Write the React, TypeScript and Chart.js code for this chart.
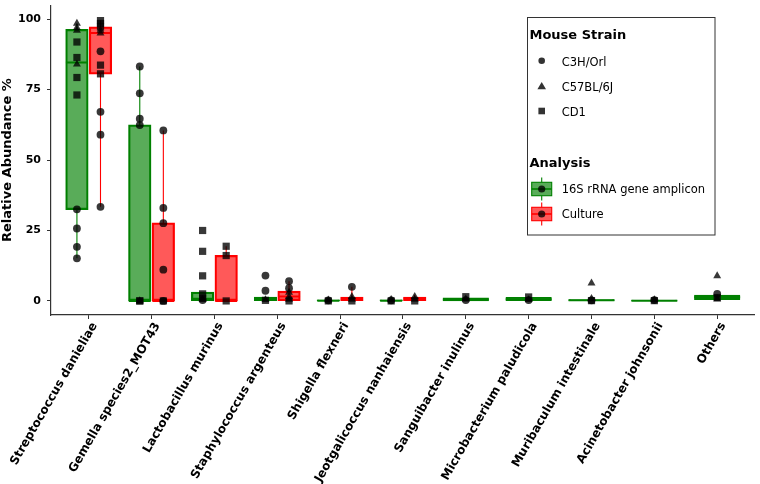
import React, { useEffect, useRef } from 'react';
import { Chart, registerables } from 'chart.js';

Chart.register(...registerables);

const categories = [
  'Streptococcus danieliae',
  'Gemella species2_MOT43',
  'Lactobacillus murinus',
  'Staphylococcus argenteus',
  'Shigella flexneri',
  'Jeotgalicoccus nanhaiensis',
  'Sanguibacter inulinus',
  'Microbacterium paludicola',
  'Muribaculum intestinale',
  'Acinetobacter johnsonii',
  'Others',
];
const yTicks = [0, 25, 50, 75, 100];
const strainLabels = ['C3H/Orl', 'C57BL/6J', 'CD1'];
const analysisLabels = ['16S rRNA gene amplicon', 'Culture'];
const yTitle = 'Relative Abundance %';
const strainTitle = 'Mouse Strain';
const analysisTitle = 'Analysis';

// box stats per category: [q1, median, q3, whiskerLow, whiskerHigh]
const ampliconBoxes: (number[] | null)[] = [
  [32.5, 84.6, 96.3, 15.1, 98.5],
  [0, 0, 62.4, 0, 83.2],
  [0, 0.8, 3.0, 0, 3.0],
  [0, 0.4, 1.3, 0, 1.3],
  [0, 0.1, 0.3, 0, 0.3],
  [0, 0.1, 0.3, 0, 0.3],
  [0.1, 0.5, 1.0, 0, 1.0],
  [0, 0.6, 1.2, 0, 1.2],
  [0, 0.2, 0.4, 0, 0.4],
  [0, 0.1, 0.2, 0, 0.2],
  [0.5, 1.3, 2.0, 0.3, 2.3],
];
const cultureBoxes: (number[] | null)[] = [
  [80.6, 95.1, 97.2, 33.4, 99.5],
  [0, 0, 27.6, 0, 60.5],
  [0, 0, 16.1, 0, 19.4],
  [0, 1.6, 3.4, 0, 7.0],
  [0, 0.5, 1.3, 0, 5.0],
  [0.2, 0.8, 1.3, 0, 2.2],
  null,
  null,
  null,
  null,
  null,
];

// individual samples per category
const ampliconC3H = [
  [32.5, 25.7, 19.2, 15.1],
  [83.2, 73.7, 64.7, 62.4],
  [0.3],
  [9.0, 3.6],
  [0.2],
  [0.2],
  [0.3],
  [0.3],
  [0.2],
  [0.3],
  [2.5],
];
const ampliconC57 = [
  [98.5, 97.0, 96.0, 84.0],
  [0],
  [0.5],
  [0.4],
  [0.3],
  [0.5],
  [0.6],
  [0.4],
  [6.3, 0.8],
  [0.4],
  [8.9, 0.6],
];
const ampliconCD1 = [
  [91.9, 86.4, 79.3, 73.1],
  [0, 0],
  [25.0, 17.6, 8.9, 2.5, 1.0],
  [0.2],
  [0],
  [0],
  [1.5],
  [1.4],
  [0.1],
  [0.1],
  [1.2],
];
const cultureC3H = [
  [88.6, 67.1, 59.0, 33.4],
  [60.5, 33.0, 27.6, 11.1, 0],
  [],
  [7.0, 4.5],
  [5.0],
  [],
  [], [], [], [], [],
];
const cultureC57 = [
  [96.0, 95.0],
  [],
  [],
  [3.0, 1.5, 0.5],
  [1.5, 0.5],
  [1.5, 0.5],
  [], [], [], [], [],
];
const cultureCD1 = [
  [99.5, 98.5, 97.2, 83.7, 80.6],
  [0],
  [19.4, 16.1, 0],
  [0],
  [0],
  [0],
  [], [], [], [], [],
];

const GREEN = '#008000';
const GREEN_FILL = 'rgba(0,128,0,0.65)';
const RED = '#ff0000';
const RED_FILL = 'rgba(255,0,0,0.65)';
const POINT = 'rgba(0,0,0,0.78)';
const FONT = '"DejaVu Sans", sans-serif';
const DODGE = 0.1875;

function centerFor(i: number, group: 'a' | 'c') {
  const paired = !!cultureBoxes[i];
  if (!paired) return i;
  return group === 'a' ? i - DODGE : i + DODGE;
}

function boxData(boxes: (number[] | null)[], group: 'a' | 'c', paired: boolean) {
  const out: any[] = [];
  boxes.forEach((b, i) => {
    if (!b) return;
    const isPaired = !!cultureBoxes[i];
    if (isPaired !== paired) return;
    out.push({ x: centerFor(i, group), y: [b[0], b[2]] });
  });
  return out;
}

function whiskerData(boxes: (number[] | null)[], group: 'a' | 'c') {
  const out: any[] = [];
  boxes.forEach((b, i) => {
    if (!b) return;
    const c = centerFor(i, group);
    out.push({ x: c, y: b[3] }, { x: c, y: b[0] }, { x: c, y: null });
    out.push({ x: c, y: b[2] }, { x: c, y: b[4] }, { x: c, y: null });
  });
  return out;
}

function medianData(boxes: (number[] | null)[], group: 'a' | 'c') {
  const out: any[] = [];
  boxes.forEach((b, i) => {
    if (!b) return;
    const c = centerFor(i, group);
    const h = cultureBoxes[i] ? 0.175 : 0.365;
    out.push({ x: c - h, y: b[1] }, { x: c + h, y: b[1] }, { x: c + h, y: null });
  });
  return out;
}

function pointData(values: number[][], group: 'a' | 'c') {
  const out: any[] = [];
  values.forEach((arr, i) => {
    arr.forEach((v) => out.push({ x: centerFor(i, group), y: v }));
  });
  return out;
}

const legendPlugin = {
  id: 'customLegend',
  afterDraw(chart: any) {
    const ctx = chart.ctx as CanvasRenderingContext2D;
    ctx.save();
    ctx.strokeStyle = '#333';
    ctx.lineWidth = 1;
    ctx.strokeRect(527.5, 17.5, 187.5, 217.5);

    ctx.fillStyle = '#000';
    ctx.textAlign = 'left';
    ctx.textBaseline = 'alphabetic';
    ctx.font = `bold 13px ${FONT}`;
    ctx.fillText(strainTitle, 529.5, 39.3);
    ctx.fillText(analysisTitle, 529.5, 166.5);

    ctx.font = `11.5px ${FONT}`;
    const strainY = [60.7, 86, 111];
    const baseY = [65.5, 90.8, 115.8];
    strainLabels.forEach((s, k) => {
      ctx.fillStyle = '#000';
      ctx.fillText(s, 561.7, baseY[k]);
      ctx.fillStyle = '#333';
      const x = 541.7;
      const y = strainY[k];
      ctx.beginPath();
      if (k === 0) {
        ctx.arc(x, y, 3.3, 0, Math.PI * 2);
      } else if (k === 1) {
        ctx.moveTo(x, y - 4);
        ctx.lineTo(x + 4.3, y + 3.2);
        ctx.lineTo(x - 4.3, y + 3.2);
        ctx.closePath();
      } else {
        ctx.rect(x - 3.3, y - 3.3, 6.6, 6.6);
      }
      ctx.fill();
    });

    const keyY = [189, 214];
    const keyBase = [193.2, 218.4];
    analysisLabels.forEach((s, k) => {
      const stroke = k === 0 ? GREEN : RED;
      const fill = k === 0 ? GREEN_FILL : RED_FILL;
      const x = 541.7;
      const y = keyY[k];
      ctx.strokeStyle = stroke;
      ctx.lineWidth = 1.1;
      ctx.beginPath();
      ctx.moveTo(x, y - 11.5);
      ctx.lineTo(x, y + 11.5);
      ctx.stroke();
      ctx.fillStyle = '#fff';
      ctx.fillRect(531.7, y - 6.7, 20, 13.4);
      ctx.fillStyle = fill;
      ctx.fillRect(531.7, y - 6.7, 20, 13.4);
      ctx.strokeRect(531.7, y - 6.7, 20, 13.4);
      ctx.lineWidth = 1.6;
      ctx.beginPath();
      ctx.moveTo(531.7, y);
      ctx.lineTo(551.7, y);
      ctx.stroke();
      ctx.fillStyle = POINT;
      ctx.beginPath();
      ctx.arc(x, y, 3.6, 0, Math.PI * 2);
      ctx.fill();
      ctx.fillStyle = '#000';
      ctx.fillText(s, 561.7, keyBase[k]);
    });
    ctx.restore();
  },
};

export default function App() {
  const ref = useRef<HTMLCanvasElement>(null);

  useEffect(() => {
    const boxCommon = {
      type: 'bar' as const,
      grouped: false,
      borderWidth: 1,
      borderSkipped: false,
      inflateAmount: 0.6,
      order: 3,
    };
    const lineCommon = {
      type: 'line' as const,
      pointRadius: 0,
      spanGaps: false,
      fill: false,
      tension: 0,
    };
    const scatterCommon = {
      type: 'scatter' as const,
      backgroundColor: POINT,
      borderWidth: 0,
      order: 0,
    };
    const datasets: any[] = [
      { ...scatterCommon, label: 'a-C3H', data: pointData(ampliconC3H, 'a'), pointStyle: 'circle', pointRadius: 3.9 },
      { ...scatterCommon, label: 'a-C57', data: pointData(ampliconC57, 'a'), pointStyle: 'triangle', pointRadius: 4.6 },
      { ...scatterCommon, label: 'a-CD1', data: pointData(ampliconCD1, 'a'), pointStyle: 'rect', pointRadius: 5.1 },
      { ...scatterCommon, label: 'c-C3H', data: pointData(cultureC3H, 'c'), pointStyle: 'circle', pointRadius: 3.9 },
      { ...scatterCommon, label: 'c-C57', data: pointData(cultureC57, 'c'), pointStyle: 'triangle', pointRadius: 4.6 },
      { ...scatterCommon, label: 'c-CD1', data: pointData(cultureCD1, 'c'), pointStyle: 'rect', pointRadius: 5.1 },
      { ...lineCommon, label: 'a-med', data: medianData(ampliconBoxes, 'a'), borderColor: GREEN, borderWidth: 2, order: 1 },
      { ...lineCommon, label: 'c-med', data: medianData(cultureBoxes, 'c'), borderColor: RED, borderWidth: 2, order: 1 },
      { ...lineCommon, label: 'a-wh', data: whiskerData(ampliconBoxes, 'a'), borderColor: GREEN, borderWidth: 1.1, order: 2 },
      { ...lineCommon, label: 'c-wh', data: whiskerData(cultureBoxes, 'c'), borderColor: RED, borderWidth: 1.1, order: 2 },
      { ...boxCommon, label: 'a-box-p', data: boxData(ampliconBoxes, 'a', true), backgroundColor: GREEN_FILL, borderColor: GREEN, barThickness: 22 },
      { ...boxCommon, label: 'a-box-s', data: boxData(ampliconBoxes, 'a', false), backgroundColor: GREEN_FILL, borderColor: GREEN, barThickness: 45 },
      { ...boxCommon, label: 'c-box', data: boxData(cultureBoxes, 'c', true), backgroundColor: RED_FILL, borderColor: RED, barThickness: 22 },
    ];

    const chart = new Chart(ref.current as HTMLCanvasElement, {
      type: 'bar',
      data: { datasets },
      options: {
        animation: false,
        responsive: false,
        devicePixelRatio: 1,
        layout: { padding: { top: 1, left: 0, right: 0, bottom: 0 } },
        plugins: { legend: { display: false }, tooltip: { enabled: false } },
        scales: {
          x: {
            type: 'linear',
            min: -0.6,
            max: 10.6,
            offset: false,
            grid: { display: true, offset: false, drawOnChartArea: false, drawTicks: true, tickLength: 4, tickColor: '#333', lineWidth: 1 },
            border: { display: true, color: '#333', width: 1.2 },
            afterBuildTicks: (s: any) => {
              s.ticks = categories.map((_, i) => ({ value: i }));
            },
            afterFit: (s: any) => {
              s.height = 169;
              s.paddingLeft = 0;
              s.paddingRight = 0;
            },
            ticks: {
              autoSkip: false,
              minRotation: 60,
              maxRotation: 60,
              padding: 1,
              labelOffset: 6,
              color: '#000',
              font: { family: FONT, size: 12, weight: 'bold' },
              callback: (v: any) => categories[v as number] ?? '',
            },
          },
          y: {
            type: 'linear',
            min: -5,
            max: 105,
            grid: { display: true, drawOnChartArea: false, drawTicks: true, tickLength: 4, tickColor: '#333' },
            border: { display: true, color: '#333', width: 1.2 },
            afterBuildTicks: (s: any) => {
              s.ticks = yTicks.map((v) => ({ value: v }));
            },
            afterFit: (s: any) => {
              s.width = 51;
              s.paddingTop = 0;
              s.paddingBottom = 0;
            },
            ticks: {
              padding: 6,
              color: '#000',
              font: { family: FONT, size: 11, weight: 'bold' },
              callback: (v: any) => String(v),
            },
            title: {
              display: true,
              text: yTitle,
              color: '#000',
              padding: { top: 0, bottom: 0 },
              font: { family: FONT, size: 13, weight: 'bold' },
            },
          },
        },
      } as any,
      plugins: [legendPlugin],
    });
    return () => chart.destroy();
  }, []);

  return (
    <div style={{ position: 'absolute', left: 0, top: 0, width: 760, height: 484, background: '#fff' }}>
      <canvas ref={ref} width={760} height={484} style={{ display: 'block' }} />
    </div>
  );
}
